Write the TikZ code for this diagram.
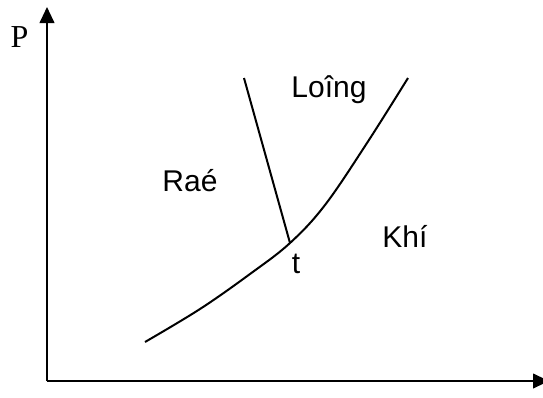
\documentclass[tikz,border=0pt]{standalone}
\usepackage{fontspec}
\setmainfont{Liberation Serif}
\newfontfamily\arialf{Liberation Sans}
\usetikzlibrary{arrows.meta}
\begin{document}
\begin{tikzpicture}[x=0.75pt,y=-0.75pt,
  axis/.style={line width=1.5pt,-{Triangle[width=11pt,length=12pt]}},
  curveline/.style={line width=1.5pt},
  lbl/.style={font=\arialf\fontsize{22.5}{26}\selectfont,inner sep=0pt}]
\useasboundingbox (0,0) rectangle (543,397);
\coordinate (o) at (47,381);
\coordinate (ytop) at (47,7);
\coordinate (xend) at (549,381);
\coordinate (t) at (290,243);
\coordinate (a) at (145,342);
\coordinate (b) at (408,78);
\coordinate (c) at (244,78);
\draw[axis] (o) -- (ytop);
\draw[axis] (o) -- (xend);
\draw[curveline] plot[smooth,tension=0.6] coordinates {(145,342) (200,309) (250,274) (t) (325,205) (367,143) (408,78)};
\draw[curveline] (c) -- (t);
\node[font=\fontsize{24}{28}\selectfont,inner sep=0pt] (p) at (19.5,37) {P};
\node[lbl] (long) at (329,90) {Loîng};
\node[lbl] (ran) at (190,181) {Raé};
\node[lbl] (khi) at (405,236) {Khí};
\node[lbl] (tl) at (296,264) {t};
\end{tikzpicture}
\end{document}
